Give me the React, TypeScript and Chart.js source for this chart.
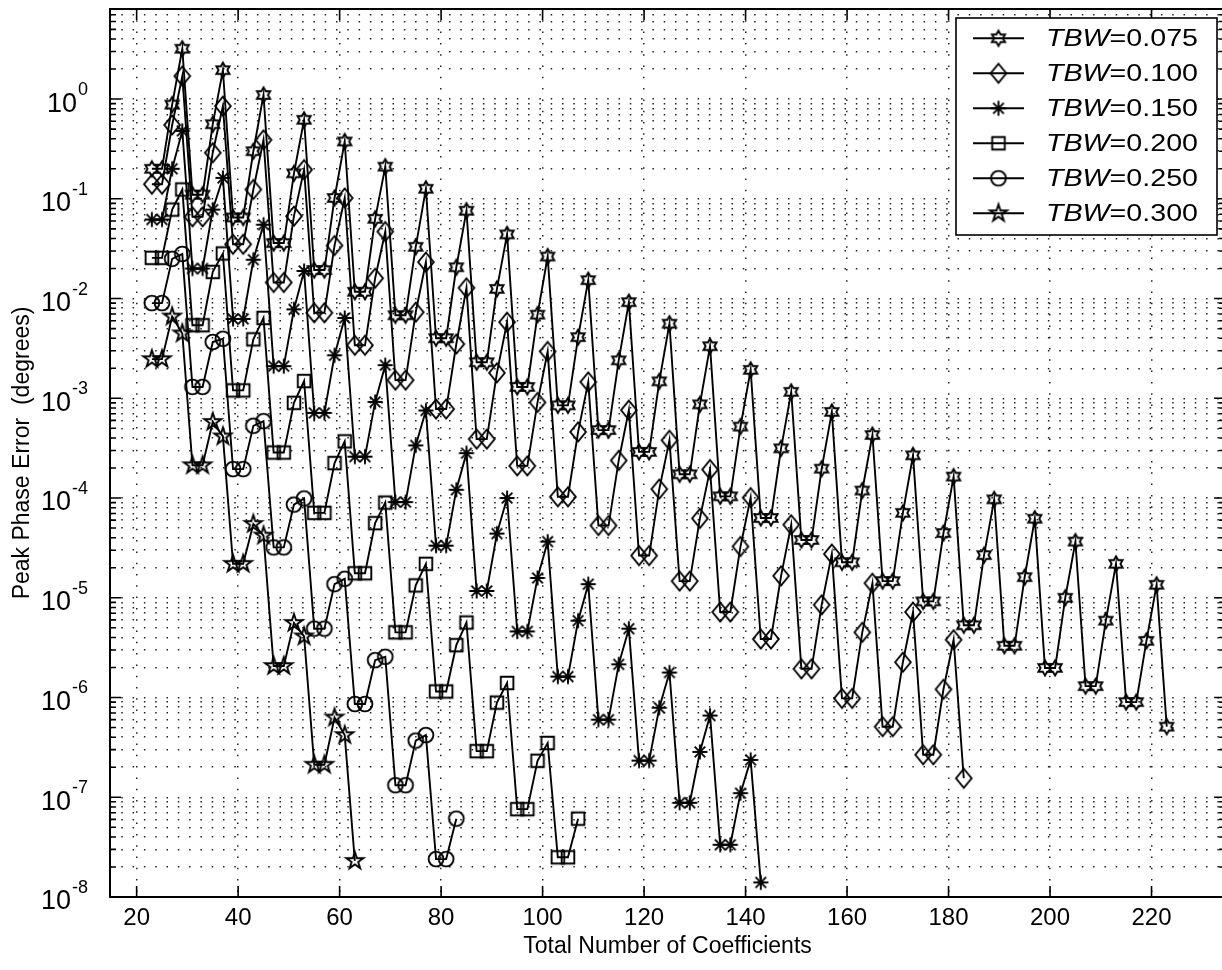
import React, { useEffect, useRef } from 'react';
import { Chart, registerables } from 'chart.js';

Chart.register(...registerables);

// ---------------- data ----------------
const X_POSITIONS = [
  23, 25, 27, 29, 31, 33, 35, 37, 39, 41, 43, 45, 47, 49, 51, 53, 55, 57, 59, 61,
  63, 65, 67, 69, 71, 73, 75, 77, 79, 81, 83, 85, 87, 89, 91, 93, 95, 97, 99, 101,
  103, 105, 107, 109, 111, 113, 115, 117, 119, 121, 123, 125, 127, 129, 131, 133, 135, 137, 139, 141,
  143, 145, 147, 149, 151, 153, 155, 157, 159, 161, 163, 165, 167, 169, 171, 173, 175, 177, 179, 181,
  183, 185, 187, 189, 191, 193, 195, 197, 199, 201, 203, 205, 207, 209, 211, 213, 215, 217, 219, 221, 223,
];

const TBW_075 = [
  0.2, 0.2, 0.88, 3.2,
  0.11, 0.11, 0.56, 1.95,
  0.065, 0.065, 0.30, 1.1,
  0.036, 0.036, 0.18, 0.62,
  0.0193, 0.0193, 0.102, 0.376,
  0.0117, 0.0117, 0.063, 0.21,
  0.0068, 0.0068, 0.033, 0.126,
  0.0040, 0.0040, 0.0206, 0.076,
  0.0023, 0.0023, 0.0125, 0.044,
  0.0013, 0.0013, 0.0069, 0.0264,
  0.00085, 0.00085, 0.0041, 0.0153,
  0.00048, 0.00048, 0.0024, 0.0092,
  0.00029, 0.00029, 0.00148, 0.0056,
  1.73e-4, 1.73e-4, 8.7e-4, 3.33e-3,
  1.04e-4, 1.04e-4, 5.2e-4, 1.93e-3,
  6.3e-5, 6.3e-5, 3.15e-4, 1.16e-3,
  3.8e-5, 3.8e-5, 1.97e-4, 7.3e-4,
  2.27e-5, 2.27e-5, 1.19e-4, 4.28e-4,
  1.47e-5, 1.47e-5, 7.1e-5, 2.68e-4,
  9.2e-6, 9.2e-6, 4.46e-5, 1.64e-4,
  5.3e-6, 5.3e-6, 2.68e-5, 9.7e-5,
  3.3e-6, 3.3e-6, 1.61e-5, 6.2e-5,
  1.98e-6, 1.98e-6, 1.0e-5, 3.66e-5,
  1.3e-6, 1.3e-6, 5.9e-6, 2.19e-5,
  9.0e-7, 9.0e-7, 3.7e-6, 1.35e-5,
  5.1e-7,
];

const TBW_100 = [
  0.14, 0.14, 0.55, 1.7,
  0.066, 0.066, 0.29, 0.85,
  0.035, 0.035, 0.124, 0.39,
  0.0145, 0.0145, 0.067, 0.196,
  0.0072, 0.0072, 0.034, 0.102,
  0.0034, 0.0034, 0.016, 0.047,
  0.00152, 0.00152, 0.0073, 0.0232,
  0.00078, 0.00078, 0.0035, 0.0128,
  0.00039, 0.00039, 0.0018, 0.0058,
  0.00021, 0.00021, 0.00091, 0.00295,
  0.000103, 0.000103, 0.00046, 0.00146,
  5.3e-5, 5.3e-5, 0.000238, 0.00076,
  2.65e-5, 2.65e-5, 0.000123, 0.00038,
  1.47e-5, 1.47e-5, 6.25e-5, 0.000193,
  7.2e-6, 7.2e-6, 3.27e-5, 0.000101,
  3.86e-6, 3.86e-6, 1.66e-5, 5.4e-5,
  1.94e-6, 1.94e-6, 8.5e-6, 2.75e-5,
  9.8e-7, 9.8e-7, 4.5e-6, 1.4e-5,
  5.1e-7, 5.1e-7, 2.26e-6, 7.2e-6,
  2.67e-7, 2.67e-7, 1.21e-6, 3.8e-6,
  1.55e-7,
];

const TBW_150 = [
  0.062, 0.062, 0.2, 0.48,
  0.020, 0.020, 0.078, 0.162,
  0.00625, 0.00625, 0.0245, 0.055,
  0.0021, 0.0021, 0.0078, 0.0189,
  0.000714, 0.000714, 0.0027, 0.0064,
  0.00026, 0.00026, 0.00092, 0.00215,
  9.1e-5, 9.1e-5, 0.000337, 0.000755,
  3.33e-5, 3.33e-5, 0.000121, 0.000282,
  1.17e-5, 1.17e-5, 4.4e-5, 0.0001,
  4.6e-6, 4.6e-6, 1.58e-5, 3.66e-5,
  1.62e-6, 1.62e-6, 5.9e-6, 1.37e-5,
  6.0e-7, 6.0e-7, 2.15e-6, 4.9e-6,
  2.33e-7, 2.33e-7, 7.9e-7, 1.78e-6,
  8.8e-8, 8.8e-8, 2.85e-7, 6.6e-7,
  3.34e-8, 3.34e-8, 1.1e-7, 2.37e-7,
  1.4e-8,
];

const TBW_200 = [
  0.0256, 0.0256, 0.078, 0.124,
  0.0054, 0.0054, 0.0185, 0.0283,
  0.0012, 0.0012, 0.0039, 0.0064,
  0.000286, 0.000286, 0.0009, 0.00149,
  7.1e-5, 7.1e-5, 0.000224, 0.00037,
  1.76e-5, 1.76e-5, 5.6e-5, 9.0e-5,
  4.5e-6, 4.5e-6, 1.33e-5, 2.19e-5,
  1.15e-6, 1.15e-6, 3.35e-6, 5.65e-6,
  2.9e-7, 2.9e-7, 8.9e-7, 1.4e-6,
  7.6e-8, 7.6e-8, 2.32e-7, 3.5e-7,
  2.5e-8, 2.5e-8, 6.1e-8,
];

const TBW_250 = [
  0.009, 0.009, 0.025, 0.028,
  0.0013, 0.0013, 0.00367, 0.00395,
  0.000195, 0.000195, 0.00053, 0.00059,
  3.2e-5, 3.2e-5, 8.6e-5, 9.9e-5,
  4.9e-6, 4.9e-6, 1.37e-5, 1.55e-5,
  8.6e-7, 8.6e-7, 2.37e-6, 2.56e-6,
  1.32e-7, 1.32e-7, 3.7e-7, 4.2e-7,
  2.4e-8, 2.4e-8, 6.1e-8,
];

const TBW_300 = [
  0.00247, 0.00247, 0.0066, 0.00447,
  0.000213, 0.000213, 0.00058, 0.000415,
  2.19e-5, 2.19e-5, 5.5e-5, 4.2e-5,
  2.07e-6, 2.07e-6, 5.6e-6, 4.1e-6,
  2.12e-7, 2.12e-7, 6.3e-7, 4.2e-7,
  2.3e-8,
];

const SERIES_LABELS = ['TBW=0.075', 'TBW=0.100', 'TBW=0.150', 'TBW=0.200', 'TBW=0.250', 'TBW=0.300'];
const SERIES_VALUES = [TBW_075, TBW_100, TBW_150, TBW_200, TBW_250, TBW_300];
const SERIES_MARKERS = ['hexagram', 'diamond', 'asterisk', 'square', 'circle', 'pentagram'];

const X_TICKS = [20, 40, 60, 80, 100, 120, 140, 160, 180, 200, 220];
const Y_DECADES = [1e-8, 1e-7, 1e-6, 1e-5, 1e-4, 1e-3, 1e-2, 1e-1, 1];
const Y_DECADE_EXPONENTS = ['-8', '-7', '-6', '-5', '-4', '-3', '-2', '-1', '0'];
const Y_MINOR_STEPS = [2, 3, 4, 5, 6, 7, 8, 9];

const X_TITLE = 'Total Number of Coefficients';
const Y_TITLE = 'Peak Phase Error  (degrees)';

// ---------------- layout / style ----------------
const CANVAS_W = 1234;
const CANVAS_H = 970;
const X_MIN = 14.75;
const X_MAX = 234.5;
const Y_MIN = 1e-8;
const Y_MAX = 8;
const FONT = '"Liberation Sans", Arial, Helvetica, sans-serif';
const INK = '#000';
const GRID_INK = '#222';
const Y_LABEL_RIGHT = 87;
const LEGEND = { left: 956, top: 18, width: 261, height: 217, rowTop: 38.3, rowStep: 35, lineX0: 973, lineX1: 1024, textX: 1046, textWidth: 152 };

function yTickValues(): number[] {
  const out: number[] = [];
  for (const d of Y_DECADES) {
    out.push(d);
    for (const m of Y_MINOR_STEPS) out.push(m * d);
  }
  return out.filter((v) => v <= Y_MAX * 1.000001);
}

function decadeIndex(v: number): number {
  return Y_DECADES.findIndex((d) => Math.abs(v / d - 1) < 1e-6);
}

function tracePath(ctx: CanvasRenderingContext2D, kind: string, cx: number, cy: number) {
  ctx.beginPath();
  if (kind === 'hexagram') {
    const R = 7.6;
    const r = R / Math.sqrt(3);
    for (let i = 0; i < 12; i++) {
      const a = -Math.PI / 2 + (i * Math.PI) / 6;
      const rr = i % 2 === 0 ? R : r;
      const px = cx + rr * Math.cos(a);
      const py = cy + rr * Math.sin(a);
      if (i === 0) ctx.moveTo(px, py);
      else ctx.lineTo(px, py);
    }
    ctx.closePath();
  } else if (kind === 'pentagram') {
    const R = 9;
    const r = R * 0.382;
    for (let i = 0; i < 10; i++) {
      const a = -Math.PI / 2 + (i * Math.PI) / 5;
      const rr = i % 2 === 0 ? R : r;
      const px = cx + rr * Math.cos(a);
      const py = cy + rr * Math.sin(a);
      if (i === 0) ctx.moveTo(px, py);
      else ctx.lineTo(px, py);
    }
    ctx.closePath();
  } else if (kind === 'diamond') {
    const w = 7.8;
    const h = 9.5;
    ctx.moveTo(cx, cy - h);
    ctx.lineTo(cx + w, cy);
    ctx.lineTo(cx, cy + h);
    ctx.lineTo(cx - w, cy);
    ctx.closePath();
  } else if (kind === 'asterisk') {
    const r = 7.5;
    for (let i = 0; i < 4; i++) {
      const a = (i * Math.PI) / 4;
      ctx.moveTo(cx - r * Math.cos(a), cy - r * Math.sin(a));
      ctx.lineTo(cx + r * Math.cos(a), cy + r * Math.sin(a));
    }
  } else if (kind === 'square') {
    const s = 6.3;
    ctx.rect(cx - s, cy - s, 2 * s, 2 * s);
  } else if (kind === 'circle') {
    ctx.arc(cx, cy, 7.4, 0, Math.PI * 2);
  }
}

function makeMarker(kind: string): HTMLCanvasElement {
  const c = document.createElement('canvas');
  c.width = 26;
  c.height = 26;
  const ctx = c.getContext('2d')!;
  ctx.strokeStyle = INK;
  ctx.lineWidth = 1.9;
  ctx.lineJoin = 'miter';
  tracePath(ctx, kind, 13, 13);
  ctx.stroke();
  return c;
}

export default function App() {
  const ref = useRef<HTMLCanvasElement | null>(null);

  useEffect(() => {
    const canvas = ref.current;
    if (!canvas) return;
    const markers = SERIES_MARKERS.map((k) => makeMarker(k));
    const yTicks = yTickValues();

    const datasets = SERIES_VALUES.map((vals, i) => ({
      label: SERIES_LABELS[i],
      data: vals.map((v, j) => ({ x: X_POSITIONS[j], y: v })),
      borderColor: INK,
      backgroundColor: 'rgba(0,0,0,0)',
      borderWidth: 1.9,
      pointStyle: markers[i] as any,
      pointRadius: 7,
      pointHoverRadius: 7,
      pointBorderColor: INK,
      pointBackgroundColor: 'rgba(0,0,0,0)',
      fill: false,
      tension: 0,
    }));

    const framePlugin = {
      id: 'matlabFrame',
      afterDraw(chart: any) {
        const { ctx, chartArea } = chart;
        const { left, right, top, bottom } = chartArea;
        const xs = chart.scales.x;
        const ys = chart.scales.y;
        ctx.save();
        ctx.strokeStyle = INK;
        ctx.lineWidth = 1.6;
        ctx.beginPath();
        for (const t of X_TICKS) {
          const px = xs.getPixelForValue(t);
          ctx.moveTo(px, bottom);
          ctx.lineTo(px, bottom - 11);
          ctx.moveTo(px, top);
          ctx.lineTo(px, top + 11);
        }
        for (const v of yTicks) {
          const py = ys.getPixelForValue(v);
          const len = decadeIndex(v) >= 0 ? 11 : 6;
          ctx.moveTo(left, py);
          ctx.lineTo(left + len, py);
          ctx.moveTo(right, py);
          ctx.lineTo(right - len, py);
        }
        ctx.stroke();
        ctx.lineWidth = 2;
        ctx.strokeRect(left, top, right - left, bottom - top);

        // y tick labels: 10 with a superscript exponent
        ctx.fillStyle = INK;
        ctx.textBaseline = 'middle';
        ctx.textAlign = 'left';
        Y_DECADES.forEach((d, i) => {
          const py = ys.getPixelForValue(d);
          const expo = Y_DECADE_EXPONENTS[i];
          ctx.font = `27px ${FONT}`;
          const wb = ctx.measureText('10').width;
          ctx.font = `18px ${FONT}`;
          const we = ctx.measureText(expo).width;
          const x0 = Y_LABEL_RIGHT - wb - we;
          ctx.font = `27px ${FONT}`;
          ctx.fillText('10', x0, py + 5);
          ctx.font = `18px ${FONT}`;
          ctx.fillText(expo, x0 + wb + 1, py - 9);
        });

        // legend box
        ctx.fillStyle = '#fff';
        ctx.fillRect(LEGEND.left, LEGEND.top, LEGEND.width, LEGEND.height);
        ctx.lineWidth = 1.6;
        ctx.strokeRect(LEGEND.left, LEGEND.top, LEGEND.width, LEGEND.height);
        chart.data.datasets.forEach((ds: any, i: number) => {
          const yRow = LEGEND.rowTop + i * LEGEND.rowStep;
          ctx.beginPath();
          ctx.lineWidth = 1.9;
          ctx.moveTo(LEGEND.lineX0, yRow);
          ctx.lineTo(LEGEND.lineX1, yRow);
          ctx.stroke();
          const m = markers[i];
          const mx = (LEGEND.lineX0 + LEGEND.lineX1) / 2;
          ctx.drawImage(m, mx - m.width / 2, yRow - m.height / 2);
          const label: string = ds.label;
          const eq = label.indexOf('=');
          const italicPart = label.slice(0, eq);
          const restPart = label.slice(eq);
          ctx.fillStyle = INK;
          ctx.textBaseline = 'middle';
          ctx.textAlign = 'left';
          ctx.font = `italic 23px ${FONT}`;
          const w1 = ctx.measureText(italicPart).width;
          ctx.font = `23px ${FONT}`;
          const w2 = ctx.measureText(restPart).width;
          const sx = LEGEND.textWidth / (w1 + w2);
          ctx.save();
          ctx.translate(LEGEND.textX, yRow + 1);
          ctx.scale(sx, 1);
          ctx.font = `italic 23px ${FONT}`;
          ctx.fillText(italicPart, 0, 0);
          ctx.font = `23px ${FONT}`;
          ctx.fillText(restPart, w1, 0);
          ctx.restore();
        });
        ctx.restore();
      },
    };

    const chart = new Chart(canvas, {
      type: 'line',
      data: { datasets: datasets as any },
      options: {
        animation: false,
        responsive: false,
        maintainAspectRatio: false,
        devicePixelRatio: 1,
        events: [],
        layout: { padding: { left: 0, right: 7, top: 9, bottom: 0 } },
        plugins: {
          legend: { display: false },
          tooltip: { enabled: false },
        },
        scales: {
          x: {
            type: 'linear',
            min: X_MIN,
            max: X_MAX,
            afterBuildTicks: (scale: any) => {
              scale.ticks = X_TICKS.map((v) => ({ value: v }));
            },
            afterFit: (scale: any) => {
              scale.height = 73;
              scale.paddingLeft = 0;
              scale.paddingRight = 0;
            },
            grid: { color: GRID_INK, lineWidth: 1.5, drawTicks: false },
            border: { display: false, dash: [1.5, 9.8] },
            ticks: {
              autoSkip: false,
              maxRotation: 0,
              color: INK,
              padding: 7,
              font: { family: FONT, size: 24 },
              callback: (v: any) => String(v),
            },
            title: {
              display: true,
              text: X_TITLE,
              color: INK,
              font: { family: FONT, size: 23 },
              padding: { top: 0, bottom: 10 },
            },
          },
          y: {
            type: 'logarithmic',
            min: Y_MIN,
            max: Y_MAX,
            afterBuildTicks: (scale: any) => {
              scale.ticks = yTicks.map((v) => ({ value: v }));
            },
            afterFit: (scale: any) => {
              scale.width = 110;
              scale.paddingTop = 0;
              scale.paddingBottom = 0;
            },
            grid: { color: GRID_INK, lineWidth: 1.5, drawTicks: false },
            border: { display: false, dash: [1.5, 9.8] },
            ticks: { display: false },
            title: {
              display: true,
              text: Y_TITLE,
              color: INK,
              font: { family: FONT, size: 23 },
              padding: { top: 9, bottom: 0 },
            },
          },
        },
      },
      plugins: [framePlugin],
    });

    return () => {
      chart.destroy();
    };
  }, []);

  return (
    <div style={{ position: 'fixed', left: 0, top: 0, width: 1222, height: 970, overflow: 'hidden', background: '#fff' }}>
      <canvas ref={ref} width={CANVAS_W} height={CANVAS_H} style={{ display: 'block', width: CANVAS_W, height: CANVAS_H }} />
    </div>
  );
}
